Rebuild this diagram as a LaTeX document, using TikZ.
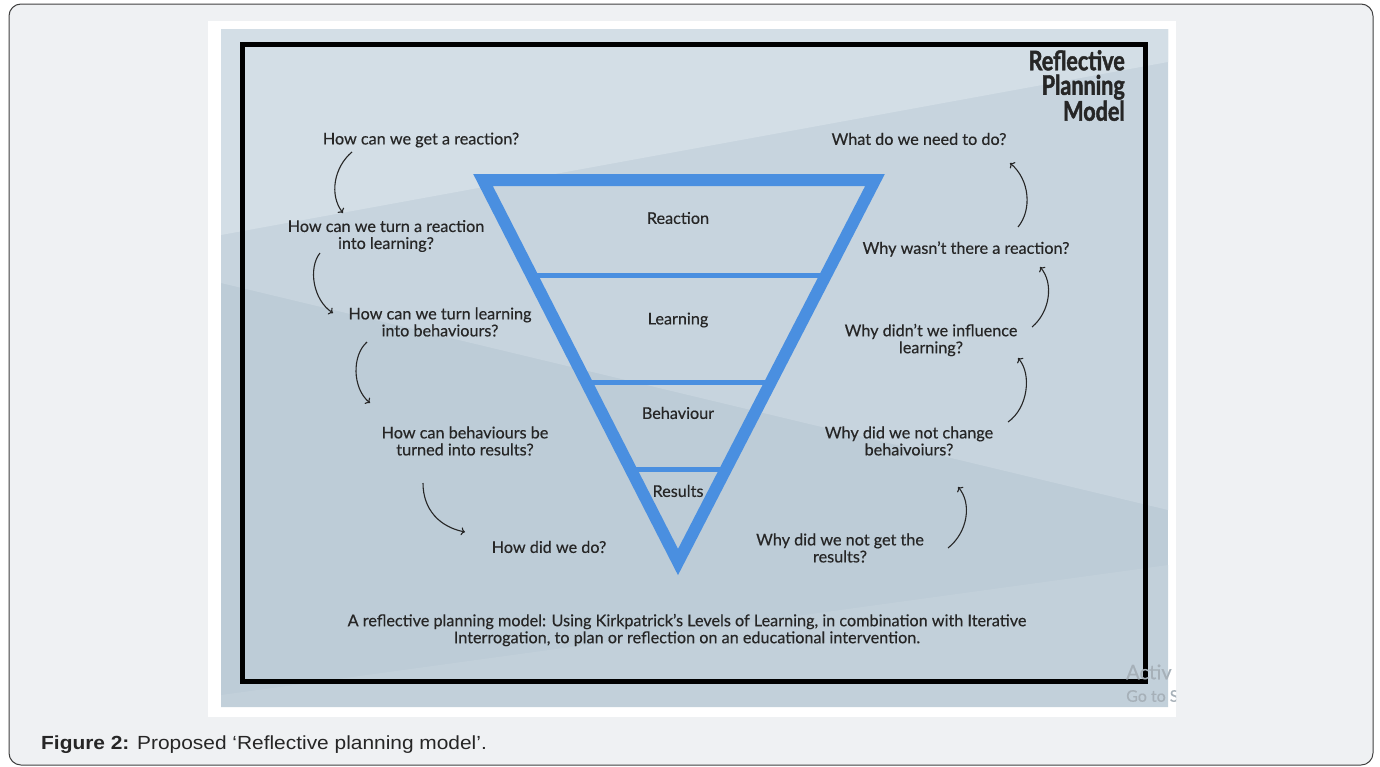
\documentclass[tikz,border=0pt]{standalone}
\usepackage{fontspec}
\setmainfont{Lato}[FakeBold=0.35]
\newfontfamily\titlefont[FakeStretch=0.8, FakeBold=1.6]{Lato}
\newfontfamily\capfont[FakeStretch=1.1]{Liberation Sans}
\usetikzlibrary{arrows.meta,calc}

\definecolor{pagegray}{HTML}{EFF1F3}
\definecolor{bgtop}{HTML}{D3DEE6}
\definecolor{bgmid}{HTML}{C7D4DE}
\definecolor{bglow}{HTML}{BDCCD7}
\definecolor{bgsheen}{HTML}{C2D0DA}
\definecolor{kpblue}{HTML}{4A8FE0}
\definecolor{inkgray}{HTML}{262626}
\definecolor{wmgray}{HTML}{A6B0B8}

\tikzset{%
  >={To[length=4pt,width=8pt]},
  % Specifications for style of nodes:
      question/.style = {align=center, text=inkgray, inner sep=0pt,
                         font=\fontsize{16.2}{17}\selectfont},
          tier/.style = {question},
      qarrow/.style = {->, draw=inkgray, line width=1.1pt},
        band/.style = {draw=kpblue, line width=5pt},
}

\begin{document}
\begin{tikzpicture}[x=1pt, y=-1pt]
  \useasboundingbox (0,0) rectangle (1380,766);
  % page panel and white picture frame
  \draw[fill=pagegray, draw=black!75, line width=1pt, rounded corners=12pt] (9,4) rectangle (1373,765);
  \fill[white] (208,21) rectangle (1176,717);

  % tinted background with diagonal bands
  \begin{scope}
    \clip (221,29) rectangle (1168,707);
    \fill[bglow] (221,29) rectangle (1168,707);
    \fill[bgmid] (221,29) -- (1168,29) -- (1168,510) -- (221,283) -- cycle;
    \fill[bgtop] (221,29) -- (1168,29) -- (1168,62) -- (221,235) -- cycle;
    \fill[bgsheen] (221,707) -- (221,695) -- (1168,565) -- (1168,707) -- cycle;
  \end{scope}
  \draw[black, line width=5pt] (242,44) rectangle (1145,681);

  % title
  \node (title) [anchor=north east, align=right, text=inkgray, inner sep=0pt,
                 font=\titlefont\bfseries\fontsize{27}{24.5}\selectfont] at (1125,50)
                 {Reflective\\Planning\\Model};

  % the levels triangle
  \coordinate (tl) at (483,180);
  \coordinate (tr) at (875,180);
  \coordinate (bt) at (678,562);
  \draw[draw=kpblue, line width=12pt, line join=miter] (tl) -- (tr) -- (bt) -- cycle;
  \draw[band] ($(tl)!0.249!(bt)$) -- ($(tr)!0.249!(bt)$);
  \draw[band] ($(tl)!0.529!(bt)$) -- ($(tr)!0.529!(bt)$);
  \draw[band] ($(tl)!0.757!(bt)$) -- ($(tr)!0.757!(bt)$);

  \node (reaction)  [tier] at (678,218) {Reaction};
  \node (learning)  [tier] at (678,320) {Learning};
  \node (behaviour) [tier] at (678,413) {Behaviour};
  \node (results)   [tier] at (678,491) {Results};

  % planning questions (left)
  \node (howreact)   [question] at (421,140) {How can we get a reaction?};
  \node (howlearn)   [question] at (386,236) {How can we turn a reaction\\into learning?};
  \node (howbehave)  [question] at (440,322) {How can we turn learning\\into behaviours?};
  \node (howresults) [question] at (465,441) {How can behaviours be\\turned into results?};
  \node (howdid)     [question] at (549,547) {How did we do?};

  % reflection questions (right)
  \node (whatdo)     [question] at (919,139) {What do we need to do?};
  \node (whyreact)   [question] at (966,249) {Why wasn't there a reaction?};
  \node (whylearn)   [question] at (931,340) {Why didn't we influence\\learning?};
  \node (whybehave)  [question] at (909,441) {Why did we not change\\behaivoiurs?};
  \node (whyresults) [question] at (840,548) {Why did we not get the\\results?};

  \node (note) [question] at (687,630) {A reflective planning model: Using Kirkpatrick's Levels of Learning, in combination with Iterative\\Interrogation, to plan or reflection on an educational intervention.};

  % arrow ends
  \coordinate (a1s) at (352,152);  \coordinate (a1e) at (343,213);
  \coordinate (a2s) at (320,253);  \coordinate (a2e) at (333,313);
  \coordinate (a3s) at (367,342);  \coordinate (a3e) at (370,403);
  \coordinate (a4s) at (423,483);  \coordinate (a4e) at (465,532);
  \coordinate (b1s) at (1018,227); \coordinate (b1e) at (1010,163);
  \coordinate (b2s) at (1032,327); \coordinate (b2e) at (1040,267);
  \coordinate (b3s) at (1008,422); \coordinate (b3e) at (1018,358);
  \coordinate (b4s) at (948,548);  \coordinate (b4e) at (958,487);

  \draw[qarrow] (a1s) .. controls +(-18,15) and +(-14,-18) .. (a1e);
  \draw[qarrow] (a2s) .. controls +(-12,15) and +(-20,-13) .. (a2e);
  \draw[qarrow] (a3s) .. controls +(-15,13) and +(-18,-15) .. (a3e);
  \draw[qarrow] (a4s) .. controls +(0,27) and +(-25,-5) .. (a4e);
  \draw[qarrow] (b1s) .. controls +(14,-17) and +(20,17) .. (b1e);
  \draw[qarrow] (b2s) .. controls +(18,-15) and +(14,16) .. (b2e);
  \draw[qarrow] (b3s) .. controls +(20,-14) and +(14,16) .. (b3e);
  \draw[qarrow] (b4s) .. controls +(20,-16) and +(14,16) .. (b4e);

  % faded watermark, cut at the frame edge
  \begin{scope}
    \clip (1100,650) rectangle (1176,717);
    \node (activ) [anchor=west, inner sep=0pt, text=wmgray, font=\fontsize{20}{20}\selectfont] at (1126,672) {Activ};
    \node (goto)  [anchor=west, inner sep=0pt, text=wmgray, font=\fontsize{16}{16}\selectfont] at (1126,696) {Go to S};
  \end{scope}

  % figure caption
  \node (figcap) [anchor=west, inner sep=0pt, text=inkgray, font=\capfont\fontsize{19}{21}\selectfont] at (41,745)
                 {\textbf{Figure 2:} Proposed ‘Reflective planning model’.};
\end{tikzpicture}
\end{document}
